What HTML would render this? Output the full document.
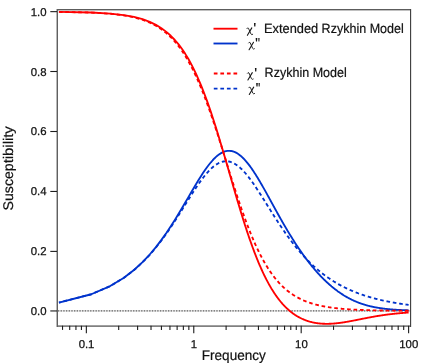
<!DOCTYPE html>
<html><head><meta charset="utf-8"><title>chart</title>
<style>
html,body{margin:0;padding:0;background:#fff;}
svg{display:block;font-family:"Liberation Sans",sans-serif;will-change:transform;text-rendering:geometricPrecision;}
</style></head><body>
<svg width="436" height="363" viewBox="0 0 436 363">
<rect width="436" height="363" fill="#fff"/>
<!-- zero line -->
<line x1="57" x2="410" y1="310.95" y2="310.95" stroke="#dcdcdc" stroke-width="1.3"/>
<line x1="57.9" x2="410" y1="310.95" y2="310.95" stroke="#606060" stroke-width="1.3" stroke-dasharray="1.34 1.345"/>
<!-- curves -->
<g fill="none" stroke-width="1.85" stroke-linejoin="round">
<path d="M58.93,302.55 L91.27,294.28 L110.18,286.09 L123.60,278.01 L134.01,270.08 L142.52,262.33 L149.71,254.79 L155.94,247.49 L161.43,240.45 L166.35,233.69 L170.80,227.23 L174.85,221.09 L178.59,215.27 L182.05,209.78 L185.26,204.63 L188.28,199.81 L191.10,195.32 L193.77,191.17 L196.29,187.34 L198.69,183.83 L200.96,180.63 L203.13,177.72 L205.21,175.10 L207.19,172.76 L209.10,170.67 L210.93,168.84 L212.69,167.23 L214.38,165.85 L216.02,164.68 L217.60,163.70 L219.13,162.91 L220.61,162.28 L222.05,161.81 L223.44,161.49 L224.79,161.31 L226.11,161.25 L227.38,161.31 L228.63,161.47 L229.84,161.73 L231.02,162.08 L232.17,162.51 L233.30,163.01 L234.40,163.58 L235.47,164.21 L236.52,164.90 L237.54,165.63 L238.55,166.41 L239.53,167.23 L240.49,168.09 L241.43,168.97 L242.36,169.89 L243.26,170.82 L244.15,171.78 L245.02,172.76 L245.88,173.75 L246.72,174.75 L247.54,175.77 L248.36,176.79 L249.15,177.82 L249.94,178.85 L250.71,179.89 L251.47,180.93 L252.21,181.96 L252.95,183.00 L253.67,184.04 L254.38,185.07 L255.09,186.10 L255.78,187.13 L256.46,188.15 L257.13,189.16 L257.79,190.17 L258.44,191.17 L259.09,192.16 L259.72,193.15 L260.35,194.13 L260.97,195.10 L261.58,196.06 L262.18,197.01 L262.77,197.95 L263.36,198.88 L263.94,199.81 L264.51,200.72 L265.08,201.62 L265.63,202.52 L266.19,203.40 L266.73,204.28 L267.27,205.14 L267.80,206.00 L268.33,206.84 L268.85,207.68 L269.37,208.50 L269.88,209.32 L270.38,210.12 L270.88,210.92 L271.38,211.71 L271.86,212.48 L272.35,213.25 L272.83,214.01 L273.30,214.76 L273.77,215.50 L274.23,216.23 L274.69,216.95 L275.15,217.66 L275.60,218.36 L276.04,219.06 L276.49,219.74 L276.93,220.42 L277.36,221.09 L277.79,221.75 L278.22,222.40 L278.64,223.05 L279.06,223.68 L279.47,224.31 L279.88,224.93 L280.29,225.55 L280.69,226.15 L281.09,226.75 L281.49,227.34 L281.88,227.92 L282.27,228.50 L282.66,229.07 L283.05,229.63 L283.43,230.19 L283.80,230.74 L284.18,231.28 L284.55,231.82 L284.92,232.35 L285.29,232.87 L285.65,233.39 L286.01,233.90 L286.37,234.40 L286.72,234.90 L287.07,235.39 L287.77,236.36 L288.46,237.31 L289.13,238.23 L289.80,239.13 L290.45,240.02 L291.10,240.88 L291.74,241.72 L292.37,242.55 L292.99,243.35 L293.61,244.14 L294.21,244.92 L294.81,245.67 L295.40,246.41 L295.99,247.13 L296.56,247.84 L297.13,248.54 L297.69,249.22 L298.25,249.88 L298.80,250.53 L299.34,251.17 L299.88,251.80 L300.41,252.41 L300.93,253.02 L301.45,253.61 L301.96,254.18 L302.47,254.75 L302.97,255.31 L303.47,255.85 L303.96,256.39 L304.44,256.92 L304.92,257.43 L305.40,257.94 L305.87,258.44 L306.34,258.93 L306.80,259.41 L307.26,259.88 L307.71,260.34 L308.16,260.80 L308.60,261.25 L309.04,261.69 L309.48,262.12 L309.91,262.54 L310.34,262.96 L310.76,263.37 L311.18,263.78 L311.60,264.17 L312.01,264.56 L312.42,264.95 L312.83,265.33 L313.23,265.70 L313.63,266.07 L314.02,266.43 L314.42,266.78 L314.80,267.13 L315.19,267.48 L315.57,267.82 L315.95,268.15 L316.33,268.48 L316.70,268.80 L317.07,269.12 L317.44,269.44 L317.80,269.75 L318.17,270.05 L318.52,270.35 L318.88,270.65 L319.23,270.94 L319.58,271.23 L320.11,271.65 L320.62,272.07 L321.13,272.48 L321.64,272.88 L322.13,273.27 L322.63,273.65 L323.12,274.03 L323.60,274.39 L324.08,274.75 L324.55,275.11 L325.02,275.46 L325.49,275.80 L325.94,276.13 L326.40,276.46 L326.85,276.78 L327.30,277.10 L327.74,277.41 L328.18,277.71 L328.61,278.01 L329.04,278.31 L329.47,278.59 L329.89,278.88 L330.31,279.16 L330.72,279.43 L331.13,279.70 L331.54,279.97 L331.95,280.23 L332.35,280.48 L332.74,280.73 L333.14,280.98 L333.53,281.23 L333.91,281.47 L334.30,281.70 L334.68,281.93 L335.06,282.16 L335.43,282.39 L335.80,282.61 L336.17,282.83 L336.54,283.04 L336.90,283.26 L337.26,283.46 L337.62,283.67 L337.97,283.87 L338.33,284.07 L338.79,284.33 L339.25,284.59 L339.71,284.84 L340.16,285.09 L340.61,285.33 L341.05,285.57 L341.49,285.80 L341.92,286.03 L342.36,286.26 L342.78,286.48 L343.21,286.70 L343.62,286.91 L344.04,287.12 L344.45,287.32 L344.86,287.53 L345.27,287.73 L345.67,287.92 L346.06,288.11 L346.46,288.30 L346.85,288.49 L347.24,288.67 L347.62,288.85 L348.00,289.03 L348.38,289.20 L348.76,289.38 L349.13,289.55 L349.50,289.71 L349.87,289.88 L350.23,290.04 L350.59,290.20 L350.95,290.35 L351.31,290.51 L351.66,290.66 L352.01,290.81 L352.44,290.99 L352.87,291.17 L353.30,291.35 L353.72,291.52 L354.14,291.69 L354.55,291.86 L354.96,292.03 L355.37,292.19 L355.78,292.35 L356.18,292.51 L356.57,292.66 L356.97,292.81 L357.36,292.96 L357.74,293.11 L358.13,293.25 L358.51,293.40 L358.89,293.54 L359.26,293.67 L359.63,293.81 L360.00,293.94 L360.37,294.07 L360.73,294.20 L361.09,294.33 L361.45,294.45 L361.80,294.58 L362.16,294.70 L362.58,294.84 L362.99,294.98 L363.40,295.12 L363.81,295.26 L364.21,295.39 L364.62,295.52 L365.01,295.65 L365.41,295.78 L365.80,295.91 L366.19,296.03 L366.57,296.15 L366.95,296.27 L367.33,296.39 L367.71,296.50 L368.08,296.62 L368.45,296.73 L368.81,296.84 L369.18,296.95 L369.54,297.05 L369.90,297.16 L370.25,297.26 L370.60,297.36 L371.01,297.48 L371.42,297.59 L371.82,297.71 L372.21,297.82 L372.61,297.93 L373.00,298.04 L373.39,298.14 L373.77,298.25 L374.15,298.35 L374.53,298.45 L374.91,298.55 L375.28,298.64 L375.65,298.74 L376.01,298.83 L376.38,298.93 L376.74,299.02 L377.10,299.11 L377.45,299.20 L377.80,299.29 L378.20,299.38 L378.60,299.48 L378.99,299.58 L379.38,299.67 L379.77,299.76 L380.15,299.85 L380.53,299.94 L380.91,300.03 L381.28,300.11 L381.65,300.20 L382.02,300.28 L382.39,300.36 L382.75,300.45 L383.11,300.53 L383.46,300.60 L383.82,300.68 L384.17,300.76 L384.56,300.84 L384.95,300.92 L385.34,301.01 L385.72,301.09 L386.10,301.17 L386.48,301.24 L386.85,301.32 L387.22,301.39 L387.59,301.47 L387.95,301.54 L388.31,301.61 L388.67,301.68 L389.03,301.75 L389.38,301.82 L389.73,301.89 L390.12,301.96 L390.50,302.04 L390.88,302.11 L391.26,302.18 L391.64,302.25 L392.01,302.32 L392.38,302.38 L392.74,302.45 L393.10,302.51 L393.46,302.58 L393.82,302.64 L394.18,302.70 L394.53,302.76 L394.91,302.83 L395.29,302.89 L395.67,302.96 L396.05,303.02 L396.42,303.08 L396.79,303.14 L397.15,303.20 L397.51,303.26 L397.87,303.32 L398.23,303.38 L398.59,303.44 L398.94,303.49 L399.32,303.55 L399.70,303.61 L400.07,303.67 L400.45,303.73 L400.81,303.78 L401.18,303.84 L401.54,303.89 L401.90,303.94 L402.26,304.00 L402.62,304.05 L402.97,304.10 L403.35,304.15 L403.72,304.21 L404.10,304.26 L404.47,304.31 L404.83,304.36 L405.20,304.41 L405.56,304.46 L405.92,304.51 L406.27,304.56 L406.62,304.61 L406.97,304.66 L407.35,304.70 L407.72,304.75 L408.09,304.80 L408.45,304.85 L408.61,304.87" stroke="#0033cc" stroke-dasharray="3.62 2.815" stroke-dashoffset="1.76"/>
<path d="M58.93,302.54 L91.27,294.27 L110.18,286.07 L123.60,277.96 L134.01,269.98 L142.52,262.16 L149.71,254.52 L155.94,247.10 L161.43,239.90 L166.35,232.96 L170.80,226.29 L174.85,219.90 L178.59,213.81 L182.05,208.02 L185.26,202.54 L188.28,197.37 L191.10,192.51 L193.77,187.97 L196.29,183.74 L198.69,179.82 L200.96,176.19 L203.13,172.86 L205.21,169.81 L207.19,167.04 L209.10,164.53 L210.93,162.27 L212.69,160.26 L214.38,158.47 L216.02,156.90 L217.60,155.55 L219.13,154.38 L220.61,153.40 L222.05,152.60 L223.44,151.96 L224.79,151.47 L226.11,151.12 L227.38,150.90 L228.63,150.81 L229.84,150.83 L231.02,150.96 L232.17,151.19 L233.30,151.50 L234.40,151.90 L235.47,152.37 L236.52,152.92 L237.54,153.52 L238.55,154.19 L239.53,154.91 L240.49,155.67 L241.43,156.48 L242.36,157.33 L243.26,158.22 L244.15,159.13 L245.02,160.08 L245.88,161.05 L246.72,162.04 L247.54,163.05 L248.36,164.07 L249.15,165.12 L249.94,166.17 L250.71,167.23 L251.47,168.30 L252.21,169.38 L252.95,170.47 L253.67,171.55 L254.38,172.64 L255.09,173.73 L255.78,174.82 L256.46,175.91 L257.13,177.00 L257.79,178.08 L258.44,179.17 L259.09,180.24 L259.72,181.32 L260.35,182.38 L260.97,183.44 L261.58,184.50 L262.18,185.55 L262.77,186.59 L263.36,187.62 L263.94,188.64 L264.51,189.66 L265.08,190.67 L265.63,191.67 L266.19,192.66 L266.73,193.65 L267.27,194.62 L267.80,195.59 L268.33,196.54 L268.85,197.49 L269.37,198.42 L269.88,199.35 L270.38,200.27 L270.88,201.18 L271.38,202.08 L271.86,202.97 L272.35,203.85 L272.83,204.72 L273.30,205.59 L273.77,206.44 L274.23,207.28 L274.69,208.12 L275.15,208.95 L275.60,209.76 L276.04,210.57 L276.49,211.37 L276.93,212.16 L277.36,212.94 L277.79,213.72 L278.22,214.48 L278.64,215.24 L279.06,215.99 L279.47,216.73 L279.88,217.46 L280.29,218.18 L280.69,218.90 L281.09,219.60 L281.49,220.30 L281.88,221.00 L282.27,221.68 L282.66,222.36 L283.05,223.03 L283.43,223.69 L283.80,224.34 L284.18,224.99 L284.55,225.63 L284.92,226.27 L285.29,226.89 L285.65,227.51 L286.01,228.13 L286.37,228.73 L286.72,229.33 L287.07,229.93 L287.77,231.10 L288.46,232.24 L289.13,233.36 L289.80,234.46 L290.45,235.53 L291.10,236.58 L291.74,237.61 L292.37,238.62 L292.99,239.61 L293.61,240.58 L294.21,241.53 L294.81,242.46 L295.40,243.38 L295.99,244.27 L296.56,245.15 L297.13,246.01 L297.69,246.85 L298.25,247.68 L298.80,248.50 L299.34,249.29 L299.88,250.08 L300.41,250.85 L300.93,251.60 L301.45,252.34 L301.96,253.07 L302.47,253.78 L302.97,254.49 L303.47,255.18 L303.96,255.85 L304.44,256.52 L304.92,257.17 L305.40,257.82 L305.87,258.45 L306.34,259.07 L306.80,259.68 L307.26,260.29 L307.71,260.88 L308.16,261.46 L308.60,262.03 L309.04,262.59 L309.48,263.15 L309.91,263.69 L310.34,264.23 L310.76,264.76 L311.18,265.28 L311.60,265.79 L312.01,266.29 L312.42,266.79 L312.83,267.28 L313.23,267.76 L313.63,268.23 L314.02,268.70 L314.42,269.16 L314.80,269.61 L315.19,270.06 L315.57,270.50 L315.95,270.93 L316.33,271.36 L316.70,271.78 L317.07,272.20 L317.44,272.61 L317.80,273.01 L318.17,273.41 L318.52,273.80 L318.88,274.19 L319.23,274.57 L319.58,274.94 L320.11,275.50 L320.62,276.04 L321.13,276.57 L321.64,277.10 L322.13,277.61 L322.63,278.11 L323.12,278.60 L323.60,279.08 L324.08,279.55 L324.55,280.02 L325.02,280.47 L325.49,280.92 L325.94,281.35 L326.40,281.78 L326.85,282.20 L327.30,282.62 L327.74,283.02 L328.18,283.42 L328.61,283.81 L329.04,284.19 L329.47,284.57 L329.89,284.94 L330.31,285.30 L330.72,285.66 L331.13,286.01 L331.54,286.36 L331.95,286.69 L332.35,287.03 L332.74,287.35 L333.14,287.67 L333.53,287.99 L333.91,288.30 L334.30,288.60 L334.68,288.90 L335.06,289.20 L335.43,289.49 L335.80,289.77 L336.17,290.05 L336.54,290.33 L336.90,290.60 L337.26,290.87 L337.62,291.13 L337.97,291.39 L338.33,291.64 L338.79,291.97 L339.25,292.29 L339.71,292.61 L340.16,292.92 L340.61,293.23 L341.05,293.52 L341.49,293.82 L341.92,294.10 L342.36,294.38 L342.78,294.65 L343.21,294.92 L343.62,295.19 L344.04,295.44 L344.45,295.69 L344.86,295.94 L345.27,296.18 L345.67,296.42 L346.06,296.65 L346.46,296.88 L346.85,297.10 L347.24,297.32 L347.62,297.54 L348.00,297.75 L348.38,297.95 L348.76,298.15 L349.13,298.35 L349.50,298.55 L349.87,298.74 L350.23,298.92 L350.59,299.11 L350.95,299.29 L351.31,299.46 L351.66,299.64 L352.01,299.81 L352.44,300.01 L352.87,300.22 L353.30,300.42 L353.72,300.61 L354.14,300.80 L354.55,300.98 L354.96,301.16 L355.37,301.34 L355.78,301.51 L356.18,301.68 L356.57,301.85 L356.97,302.01 L357.36,302.16 L357.74,302.32 L358.13,302.47 L358.51,302.62 L358.89,302.76 L359.26,302.90 L359.63,303.04 L360.00,303.17 L360.37,303.31 L360.73,303.44 L361.09,303.56 L361.45,303.69 L361.80,303.81 L362.16,303.93 L362.58,304.06 L362.99,304.20 L363.40,304.33 L363.81,304.46 L364.21,304.59 L364.62,304.71 L365.01,304.83 L365.41,304.94 L365.80,305.06 L366.19,305.17 L366.57,305.28 L366.95,305.38 L367.33,305.49 L367.71,305.59 L368.08,305.69 L368.45,305.78 L368.81,305.88 L369.18,305.97 L369.54,306.06 L369.90,306.14 L370.25,306.23 L370.60,306.31 L371.01,306.41 L371.42,306.50 L371.82,306.59 L372.21,306.68 L372.61,306.76 L373.00,306.85 L373.39,306.93 L373.77,307.01 L374.15,307.08 L374.53,307.16 L374.91,307.23 L375.28,307.30 L375.65,307.37 L376.01,307.44 L376.38,307.50 L376.74,307.57 L377.10,307.63 L377.45,307.69 L377.80,307.75 L378.20,307.82 L378.60,307.88 L378.99,307.95 L379.38,308.01 L379.77,308.07 L380.15,308.13 L380.53,308.18 L380.91,308.24 L381.28,308.29 L381.65,308.34 L382.02,308.39 L382.39,308.44 L382.75,308.49 L383.11,308.54 L383.46,308.58 L383.82,308.63 L384.17,308.67 L384.56,308.72 L384.95,308.77 L385.34,308.81 L385.72,308.85 L386.10,308.90 L386.48,308.94 L386.85,308.98 L387.22,309.02 L387.59,309.06 L387.95,309.09 L388.31,309.13 L388.67,309.16 L389.03,309.20 L389.38,309.23 L389.73,309.26 L390.12,309.30 L390.50,309.33 L390.88,309.37 L391.26,309.40 L391.64,309.43 L392.01,309.46 L392.38,309.49 L392.74,309.52 L393.10,309.55 L393.46,309.57 L393.82,309.60 L394.18,309.63 L394.53,309.65 L394.91,309.68 L395.29,309.70 L395.67,309.73 L396.05,309.75 L396.42,309.78 L396.79,309.80 L397.15,309.82 L397.51,309.84 L397.87,309.87 L398.23,309.89 L398.59,309.91 L398.94,309.93 L399.32,309.95 L399.70,309.97 L400.07,309.99 L400.45,310.01 L400.81,310.02 L401.18,310.04 L401.54,310.06 L401.90,310.08 L402.26,310.09 L402.62,310.11 L402.97,310.12 L403.35,310.14 L403.72,310.16 L404.10,310.17 L404.47,310.19 L404.83,310.20 L405.20,310.22 L405.56,310.23 L405.92,310.24 L406.27,310.26 L406.62,310.27 L406.97,310.28 L407.35,310.29 L407.72,310.31 L408.09,310.32 L408.45,310.33 L408.61,310.33" stroke="#0033cc"/>
<path d="M58.93,11.88 L91.27,12.57 L110.18,13.71 L123.60,15.30 L134.01,17.31 L142.52,19.74 L149.71,22.55 L155.94,25.73 L161.43,29.25 L166.35,33.08 L170.80,37.20 L174.85,41.57 L178.59,46.17 L182.05,50.96 L185.26,55.91 L188.28,61.00 L191.10,66.20 L193.77,71.49 L196.29,76.83 L198.69,82.22 L200.96,87.61 L203.13,93.01 L205.21,98.38 L207.19,103.71 L209.10,109.00 L210.93,114.22 L212.69,119.36 L214.38,124.43 L216.02,129.40 L217.60,134.27 L219.13,139.05 L220.61,143.71 L222.05,148.27 L223.44,152.71 L224.79,157.04 L226.11,161.25 L227.38,165.35 L228.63,169.33 L229.84,173.20 L231.02,176.95 L232.17,180.60 L233.30,184.13 L234.40,187.55 L235.47,190.87 L236.52,194.09 L237.54,197.20 L238.55,200.22 L239.53,203.14 L240.49,205.96 L241.43,208.70 L242.36,211.35 L243.26,213.91 L244.15,216.39 L245.02,218.79 L245.88,221.11 L246.72,223.36 L247.54,225.53 L248.36,227.64 L249.15,229.68 L249.94,231.65 L250.71,233.56 L251.47,235.41 L252.21,237.20 L252.95,238.94 L253.67,240.62 L254.38,242.24 L255.09,243.82 L255.78,245.35 L256.46,246.83 L257.13,248.27 L257.79,249.66 L258.44,251.01 L259.09,252.32 L259.72,253.59 L260.35,254.82 L260.97,256.02 L261.58,257.18 L262.18,258.31 L262.77,259.40 L263.36,260.46 L263.94,261.50 L264.51,262.50 L265.08,263.48 L265.63,264.42 L266.19,265.34 L266.73,266.24 L267.27,267.11 L267.80,267.96 L268.33,268.78 L268.85,269.58 L269.37,270.36 L269.88,271.12 L270.38,271.86 L270.88,272.58 L271.38,273.28 L271.86,273.96 L272.35,274.63 L272.83,275.28 L273.30,275.91 L273.77,276.52 L274.23,277.12 L274.69,277.71 L275.15,278.28 L275.60,278.84 L276.04,279.38 L276.49,279.91 L276.93,280.43 L277.36,280.93 L277.79,281.42 L278.22,281.90 L278.64,282.37 L279.06,282.83 L279.47,283.28 L279.88,283.72 L280.29,284.15 L280.69,284.56 L281.09,284.97 L281.49,285.37 L281.88,285.76 L282.27,286.15 L282.66,286.52 L283.05,286.88 L283.43,287.24 L283.80,287.59 L284.18,287.93 L284.55,288.27 L284.92,288.60 L285.29,288.92 L285.65,289.23 L286.01,289.54 L286.37,289.84 L286.72,290.14 L287.07,290.43 L287.77,290.99 L288.46,291.52 L289.13,292.04 L289.80,292.54 L290.45,293.02 L291.10,293.48 L291.74,293.92 L292.37,294.35 L292.99,294.76 L293.61,295.15 L294.21,295.54 L294.81,295.90 L295.40,296.26 L295.99,296.60 L296.56,296.93 L297.13,297.25 L297.69,297.56 L298.25,297.86 L298.80,298.15 L299.34,298.43 L299.88,298.70 L300.41,298.96 L300.93,299.22 L301.45,299.46 L301.96,299.70 L302.47,299.93 L302.97,300.16 L303.47,300.37 L303.96,300.59 L304.44,300.79 L304.92,300.99 L305.40,301.18 L305.87,301.37 L306.34,301.55 L306.80,301.73 L307.26,301.90 L307.71,302.07 L308.16,302.23 L308.60,302.39 L309.04,302.54 L309.48,302.69 L309.91,302.84 L310.34,302.98 L310.76,303.12 L311.18,303.25 L311.60,303.38 L312.01,303.51 L312.42,303.63 L312.83,303.76 L313.23,303.87 L313.63,303.99 L314.02,304.10 L314.42,304.21 L314.80,304.32 L315.19,304.42 L315.57,304.53 L315.95,304.63 L316.33,304.72 L316.70,304.82 L317.07,304.91 L317.44,305.00 L317.80,305.09 L318.17,305.18 L318.52,305.26 L318.88,305.35 L319.23,305.43 L319.58,305.51 L320.11,305.62 L320.62,305.74 L321.13,305.84 L321.64,305.95 L322.13,306.05 L322.63,306.15 L323.12,306.25 L323.60,306.34 L324.08,306.43 L324.55,306.52 L325.02,306.60 L325.49,306.69 L325.94,306.77 L326.40,306.84 L326.85,306.92 L327.30,306.99 L327.74,307.06 L328.18,307.13 L328.61,307.20 L329.04,307.27 L329.47,307.33 L329.89,307.39 L330.31,307.45 L330.72,307.51 L331.13,307.57 L331.54,307.63 L331.95,307.68 L332.35,307.74 L332.74,307.79 L333.14,307.84 L333.53,307.89 L333.91,307.94 L334.30,307.98 L334.68,308.03 L335.06,308.07 L335.43,308.12 L335.80,308.16 L336.17,308.20 L336.54,308.24 L336.90,308.28 L337.26,308.32 L337.62,308.36 L337.97,308.40 L338.33,308.43 L338.79,308.48 L339.25,308.53 L339.71,308.57 L340.16,308.62 L340.61,308.66 L341.05,308.70 L341.49,308.74 L341.92,308.78 L342.36,308.81 L342.78,308.85 L343.21,308.89 L343.62,308.92 L344.04,308.96 L344.45,308.99 L344.86,309.02 L345.27,309.05 L345.67,309.08 L346.06,309.11 L346.46,309.14 L346.85,309.17 L347.24,309.20 L347.62,309.22 L348.00,309.25 L348.38,309.28 L348.76,309.30 L349.13,309.33 L349.50,309.35 L349.87,309.37 L350.23,309.40 L350.59,309.42 L350.95,309.44 L351.31,309.46 L351.66,309.48 L352.01,309.50 L352.44,309.53 L352.87,309.55 L353.30,309.57 L353.72,309.60 L354.14,309.62 L354.55,309.64 L354.96,309.66 L355.37,309.68 L355.78,309.70 L356.18,309.72 L356.57,309.74 L356.97,309.76 L357.36,309.78 L357.74,309.79 L358.13,309.81 L358.51,309.83 L358.89,309.84 L359.26,309.86 L359.63,309.88 L360.00,309.89 L360.37,309.91 L360.73,309.92 L361.09,309.94 L361.45,309.95 L361.80,309.96 L362.16,309.98 L362.58,309.99 L362.99,310.01 L363.40,310.02 L363.81,310.04 L364.21,310.05 L364.62,310.06 L365.01,310.08 L365.41,310.09 L365.80,310.10 L366.19,310.11 L366.57,310.13 L366.95,310.14 L367.33,310.15 L367.71,310.16 L368.08,310.17 L368.45,310.18 L368.81,310.19 L369.18,310.20 L369.54,310.21 L369.90,310.22 L370.25,310.23 L370.60,310.24 L371.01,310.25 L371.42,310.26 L371.82,310.27 L372.21,310.28 L372.61,310.29 L373.00,310.30 L373.39,310.31 L373.77,310.32 L374.15,310.33 L374.53,310.34 L374.91,310.34 L375.28,310.35 L375.65,310.36 L376.01,310.37 L376.38,310.37 L376.74,310.38 L377.10,310.39 L377.45,310.40 L377.80,310.40 L378.20,310.41 L378.60,310.42 L378.99,310.42 L379.38,310.43 L379.77,310.44 L380.15,310.45 L380.53,310.45 L380.91,310.46 L381.28,310.46 L381.65,310.47 L382.02,310.48 L382.39,310.48 L382.75,310.49 L383.11,310.49 L383.46,310.50 L383.82,310.50 L384.17,310.51 L384.56,310.51 L384.95,310.52 L385.34,310.53 L385.72,310.53 L386.10,310.54 L386.48,310.54 L386.85,310.55 L387.22,310.55 L387.59,310.56 L387.95,310.56 L388.31,310.56 L388.67,310.57 L389.03,310.57 L389.38,310.58 L389.73,310.58 L390.12,310.59 L390.50,310.59 L390.88,310.59 L391.26,310.60 L391.64,310.60 L392.01,310.61 L392.38,310.61 L392.74,310.61 L393.10,310.62 L393.46,310.62 L393.82,310.62 L394.18,310.63 L394.53,310.63 L394.91,310.63 L395.29,310.64 L395.67,310.64 L396.05,310.65 L396.42,310.65 L396.79,310.65 L397.15,310.65 L397.51,310.66 L397.87,310.66 L398.23,310.66 L398.59,310.67 L398.94,310.67 L399.32,310.67 L399.70,310.67 L400.07,310.68 L400.45,310.68 L400.81,310.68 L401.18,310.69 L401.54,310.69 L401.90,310.69 L402.26,310.69 L402.62,310.70 L402.97,310.70 L403.35,310.70 L403.72,310.70 L404.10,310.70 L404.47,310.71 L404.83,310.71 L405.20,310.71 L405.56,310.71 L405.92,310.72 L406.27,310.72 L406.62,310.72 L406.97,310.72 L407.35,310.72 L407.72,310.73 L408.09,310.73 L408.45,310.73 L408.61,310.73" stroke="#ff0000" stroke-dasharray="3.62 2.815" stroke-dashoffset="0"/>
<path d="M58.93,11.87 L91.27,12.51 L110.18,13.58 L123.60,15.07 L134.01,16.95 L142.52,19.23 L149.71,21.89 L155.94,24.89 L161.43,28.23 L166.35,31.87 L170.80,35.80 L174.85,39.99 L178.59,44.41 L182.05,49.04 L185.26,53.86 L188.28,58.82 L191.10,63.92 L193.77,69.13 L196.29,74.42 L198.69,79.77 L200.96,85.16 L203.13,90.58 L205.21,96.01 L207.19,101.42 L209.10,106.81 L210.93,112.16 L212.69,117.46 L214.38,122.70 L216.02,127.88 L217.60,132.97 L219.13,137.98 L220.61,142.90 L222.05,147.73 L223.44,152.45 L224.79,157.07 L226.11,161.59 L227.38,166.01 L228.63,170.31 L229.84,174.51 L231.02,178.60 L232.17,182.58 L233.30,186.46 L234.40,190.22 L235.47,193.89 L236.52,197.45 L237.54,200.91 L238.55,204.27 L239.53,207.53 L240.49,210.69 L241.43,213.77 L242.36,216.75 L243.26,219.64 L244.15,222.44 L245.02,225.17 L245.88,227.80 L246.72,230.36 L247.54,232.85 L248.36,235.25 L249.15,237.59 L249.94,239.85 L250.71,242.05 L251.47,244.18 L252.21,246.25 L252.95,248.25 L253.67,250.19 L254.38,252.08 L255.09,253.91 L255.78,255.68 L256.46,257.41 L257.13,259.08 L257.79,260.70 L258.44,262.28 L259.09,263.81 L259.72,265.29 L260.35,266.74 L260.97,268.14 L261.58,269.50 L262.18,270.82 L262.77,272.10 L263.36,273.35 L263.94,274.57 L264.51,275.75 L265.08,276.89 L265.63,278.01 L266.19,279.09 L266.73,280.15 L267.27,281.17 L267.80,282.17 L268.33,283.14 L268.85,284.09 L269.37,285.01 L269.88,285.91 L270.38,286.78 L270.88,287.63 L271.38,288.45 L271.86,289.26 L272.35,290.04 L272.83,290.81 L273.30,291.55 L273.77,292.28 L274.23,292.99 L274.69,293.68 L275.15,294.35 L275.60,295.01 L276.04,295.65 L276.49,296.27 L276.93,296.88 L277.36,297.47 L277.79,298.05 L278.22,298.62 L278.64,299.17 L279.06,299.71 L279.47,300.24 L279.88,300.75 L280.29,301.25 L280.69,301.74 L281.09,302.22 L281.49,302.69 L281.88,303.14 L282.27,303.59 L282.66,304.03 L283.05,304.45 L283.43,304.87 L283.80,305.27 L284.18,305.67 L284.55,306.06 L284.92,306.44 L285.29,306.81 L285.65,307.18 L286.01,307.53 L286.37,307.88 L286.72,308.22 L287.07,308.55 L287.77,309.19 L288.46,309.81 L289.13,310.40 L289.80,310.97 L290.45,311.51 L291.10,312.03 L291.74,312.52 L292.37,313.00 L292.99,313.46 L293.61,313.90 L294.21,314.32 L294.81,314.73 L295.40,315.11 L295.99,315.49 L296.56,315.85 L297.13,316.19 L297.69,316.52 L298.25,316.84 L298.80,317.14 L299.34,317.44 L299.88,317.72 L300.41,317.99 L300.93,318.25 L301.45,318.50 L301.96,318.74 L302.47,318.98 L302.97,319.20 L303.47,319.41 L303.96,319.62 L304.44,319.82 L304.92,320.01 L305.40,320.19 L305.87,320.36 L306.34,320.53 L306.80,320.70 L307.26,320.85 L307.71,321.00 L308.16,321.15 L308.60,321.28 L309.04,321.42 L309.48,321.54 L309.91,321.67 L310.34,321.78 L310.76,321.90 L311.18,322.00 L311.60,322.11 L312.01,322.21 L312.42,322.30 L312.83,322.39 L313.23,322.48 L313.63,322.56 L314.02,322.64 L314.42,322.72 L314.80,322.79 L315.19,322.86 L315.57,322.93 L315.95,322.99 L316.33,323.05 L316.70,323.11 L317.07,323.16 L317.44,323.21 L317.80,323.26 L318.17,323.31 L318.52,323.35 L318.88,323.39 L319.23,323.43 L319.58,323.47 L320.11,323.52 L320.62,323.57 L321.13,323.61 L321.64,323.65 L322.13,323.68 L322.63,323.71 L323.12,323.74 L323.60,323.76 L324.08,323.78 L324.55,323.79 L325.02,323.81 L325.49,323.81 L325.94,323.82 L326.40,323.82 L326.85,323.82 L327.30,323.82 L327.74,323.82 L328.18,323.81 L328.61,323.80 L329.04,323.79 L329.47,323.78 L329.89,323.76 L330.31,323.75 L330.72,323.73 L331.13,323.71 L331.54,323.69 L331.95,323.66 L332.35,323.64 L332.74,323.61 L333.14,323.58 L333.53,323.55 L333.91,323.52 L334.30,323.49 L334.68,323.46 L335.06,323.43 L335.43,323.39 L335.80,323.35 L336.17,323.32 L336.54,323.28 L336.90,323.24 L337.26,323.20 L337.62,323.16 L337.97,323.12 L338.33,323.08 L338.79,323.02 L339.25,322.96 L339.71,322.91 L340.16,322.85 L340.61,322.79 L341.05,322.72 L341.49,322.66 L341.92,322.60 L342.36,322.54 L342.78,322.47 L343.21,322.41 L343.62,322.34 L344.04,322.28 L344.45,322.21 L344.86,322.15 L345.27,322.08 L345.67,322.01 L346.06,321.95 L346.46,321.88 L346.85,321.81 L347.24,321.74 L347.62,321.68 L348.00,321.61 L348.38,321.54 L348.76,321.47 L349.13,321.41 L349.50,321.34 L349.87,321.27 L350.23,321.20 L350.59,321.14 L350.95,321.07 L351.31,321.00 L351.66,320.94 L352.01,320.87 L352.44,320.79 L352.87,320.70 L353.30,320.62 L353.72,320.54 L354.14,320.46 L354.55,320.38 L354.96,320.30 L355.37,320.22 L355.78,320.14 L356.18,320.06 L356.57,319.98 L356.97,319.90 L357.36,319.82 L357.74,319.74 L358.13,319.67 L358.51,319.59 L358.89,319.52 L359.26,319.44 L359.63,319.37 L360.00,319.29 L360.37,319.22 L360.73,319.15 L361.09,319.08 L361.45,319.00 L361.80,318.93 L362.16,318.86 L362.58,318.78 L362.99,318.70 L363.40,318.62 L363.81,318.54 L364.21,318.46 L364.62,318.38 L365.01,318.30 L365.41,318.22 L365.80,318.15 L366.19,318.07 L366.57,318.00 L366.95,317.92 L367.33,317.85 L367.71,317.78 L368.08,317.71 L368.45,317.64 L368.81,317.57 L369.18,317.50 L369.54,317.43 L369.90,317.36 L370.25,317.30 L370.60,317.23 L371.01,317.16 L371.42,317.08 L371.82,317.01 L372.21,316.94 L372.61,316.87 L373.00,316.80 L373.39,316.73 L373.77,316.66 L374.15,316.59 L374.53,316.53 L374.91,316.46 L375.28,316.40 L375.65,316.34 L376.01,316.27 L376.38,316.21 L376.74,316.15 L377.10,316.09 L377.45,316.03 L377.80,315.98 L378.20,315.91 L378.60,315.85 L378.99,315.78 L379.38,315.72 L379.77,315.66 L380.15,315.60 L380.53,315.54 L380.91,315.48 L381.28,315.43 L381.65,315.37 L382.02,315.32 L382.39,315.26 L382.75,315.21 L383.11,315.16 L383.46,315.11 L383.82,315.05 L384.17,315.00 L384.56,314.95 L384.95,314.90 L385.34,314.84 L385.72,314.79 L386.10,314.74 L386.48,314.69 L386.85,314.64 L387.22,314.59 L387.59,314.54 L387.95,314.49 L388.31,314.45 L388.67,314.40 L389.03,314.36 L389.38,314.31 L389.73,314.27 L390.12,314.22 L390.50,314.18 L390.88,314.13 L391.26,314.09 L391.64,314.05 L392.01,314.00 L392.38,313.96 L392.74,313.92 L393.10,313.88 L393.46,313.84 L393.82,313.80 L394.18,313.76 L394.53,313.73 L394.91,313.68 L395.29,313.65 L395.67,313.61 L396.05,313.57 L396.42,313.53 L396.79,313.49 L397.15,313.46 L397.51,313.42 L397.87,313.39 L398.23,313.35 L398.59,313.32 L398.94,313.29 L399.32,313.25 L399.70,313.22 L400.07,313.19 L400.45,313.15 L400.81,313.12 L401.18,313.09 L401.54,313.06 L401.90,313.03 L402.26,313.00 L402.62,312.97 L402.97,312.94 L403.35,312.91 L403.72,312.88 L404.10,312.85 L404.47,312.82 L404.83,312.80 L405.20,312.77 L405.56,312.74 L405.92,312.72 L406.27,312.69 L406.62,312.66 L406.97,312.64 L407.35,312.61 L407.72,312.59 L408.09,312.56 L408.45,312.54 L408.61,312.53" stroke="#ff0000"/>
</g>
<!-- frame -->
<g shape-rendering="crispEdges" stroke="none">
<rect x="57" y="10" width="354" height="1" fill="#c0c0c0"/>
<rect x="411" y="9" width="1" height="318" fill="#e2e2e2"/>
<rect x="56" y="325" width="355" height="1" fill="#a0a0a0"/>
<rect x="56" y="326" width="355" height="1" fill="#808080"/>
<rect x="56" y="9" width="1" height="318" fill="#b8b8b8"/>
<rect x="57" y="9" width="354" height="1" fill="#5c5c5c"/>
<rect x="57" y="9" width="1" height="318" fill="#606060"/>
<rect x="410" y="9" width="1" height="318" fill="#424242"/>
</g>
<g stroke="#1c1c1c" stroke-width="1.1"><line x1="62.52" x2="62.52" y1="325.7" y2="329.9"/><line x1="69.71" x2="69.71" y1="325.7" y2="329.9"/><line x1="75.94" x2="75.94" y1="325.7" y2="329.9"/><line x1="81.43" x2="81.43" y1="325.7" y2="329.9"/><line x1="86.35" x2="86.35" y1="325.7" y2="333.2"/><line x1="118.69" x2="118.69" y1="325.7" y2="329.9"/><line x1="137.60" x2="137.60" y1="325.7" y2="329.9"/><line x1="151.02" x2="151.02" y1="325.7" y2="329.9"/><line x1="161.43" x2="161.43" y1="325.7" y2="329.9"/><line x1="169.94" x2="169.94" y1="325.7" y2="329.9"/><line x1="177.13" x2="177.13" y1="325.7" y2="329.9"/><line x1="183.36" x2="183.36" y1="325.7" y2="329.9"/><line x1="188.85" x2="188.85" y1="325.7" y2="329.9"/><line x1="193.77" x2="193.77" y1="325.7" y2="333.2"/><line x1="226.11" x2="226.11" y1="325.7" y2="329.9"/><line x1="245.02" x2="245.02" y1="325.7" y2="329.9"/><line x1="258.44" x2="258.44" y1="325.7" y2="329.9"/><line x1="268.85" x2="268.85" y1="325.7" y2="329.9"/><line x1="277.36" x2="277.36" y1="325.7" y2="329.9"/><line x1="284.55" x2="284.55" y1="325.7" y2="329.9"/><line x1="290.78" x2="290.78" y1="325.7" y2="329.9"/><line x1="296.27" x2="296.27" y1="325.7" y2="329.9"/><line x1="301.19" x2="301.19" y1="325.7" y2="333.2"/><line x1="333.53" x2="333.53" y1="325.7" y2="329.9"/><line x1="352.44" x2="352.44" y1="325.7" y2="329.9"/><line x1="365.86" x2="365.86" y1="325.7" y2="329.9"/><line x1="376.27" x2="376.27" y1="325.7" y2="329.9"/><line x1="384.78" x2="384.78" y1="325.7" y2="329.9"/><line x1="391.97" x2="391.97" y1="325.7" y2="329.9"/><line x1="398.20" x2="398.20" y1="325.7" y2="329.9"/><line x1="403.69" x2="403.69" y1="325.7" y2="329.9"/><line x1="408.61" x2="408.61" y1="325.7" y2="333.2"/><line x1="50.3" x2="57" y1="310.95" y2="310.95"/><line x1="50.3" x2="57" y1="251.40" y2="251.40"/><line x1="50.3" x2="57" y1="191.45" y2="191.45"/><line x1="50.3" x2="57" y1="131.50" y2="131.50"/><line x1="50.3" x2="57" y1="71.50" y2="71.50"/><line x1="50.3" x2="57" y1="11.65" y2="11.65"/></g>
<g font-size="11.4px" fill="#111" stroke="#111" stroke-width="0.25"><text x="30.77" y="315.00" textLength="15.83" lengthAdjust="spacingAndGlyphs">0.0</text><text x="30.77" y="255.16" textLength="15.83" lengthAdjust="spacingAndGlyphs">0.2</text><text x="30.77" y="195.32" textLength="15.83" lengthAdjust="spacingAndGlyphs">0.4</text><text x="30.77" y="135.48" textLength="15.83" lengthAdjust="spacingAndGlyphs">0.6</text><text x="30.77" y="75.64" textLength="15.83" lengthAdjust="spacingAndGlyphs">0.8</text><text x="30.77" y="15.80" textLength="15.83" lengthAdjust="spacingAndGlyphs">1.0</text><text x="78.64" y="348.1" textLength="15.83" lengthAdjust="spacingAndGlyphs">0.1</text><text x="190.80" y="348.1" textLength="6.33" lengthAdjust="spacingAndGlyphs">1</text><text x="295.06" y="348.1" textLength="12.66" lengthAdjust="spacingAndGlyphs">10</text><text x="399.31" y="348.1" textLength="18.99" lengthAdjust="spacingAndGlyphs">100</text></g>
<text x="201.8" y="359.5" font-size="14px" textLength="64" lengthAdjust="spacingAndGlyphs" fill="#111" stroke="#111" stroke-width="0.2">Frequency</text>
<g transform="translate(12.6,210.4) rotate(-90)" font-size="14px" fill="#111" stroke="#111" stroke-width="0.2">
<text x="0" y="0" textLength="47.1" lengthAdjust="spacingAndGlyphs">Suscep</text>
<text x="47.1" y="0" textLength="37.1" lengthAdjust="spacingAndGlyphs">tibility</text>
</g>
<!-- legend -->
<g stroke-width="1.85" fill="none">
<line x1="213.5" x2="237.5" y1="28.7" y2="28.7" stroke="#ff0000"/>
<line x1="213.5" x2="237.5" y1="43.5" y2="43.5" stroke="#0033cc"/>
<line x1="213.8" x2="237.5" y1="73.5" y2="73.5" stroke="#ff0000" stroke-dasharray="3.7 2.86"/>
<line x1="213.8" x2="237.5" y1="88.65" y2="88.65" stroke="#0033cc" stroke-dasharray="3.7 2.86"/>
</g>
<defs>
<g id="chi" fill="none" stroke="#1a1a1a" stroke-linecap="round">
<path d="M5.8,0.9 L1.4,8.3" stroke-width="1.1"/>
<path d="M0.9,1.5 Q1.5,0.3 2.5,1.3 L4.9,6.9 Q5.6,8.2 6.7,7.4" stroke-width="0.95"/>
</g>
<path id="pr" d="M-0.8,0 L0.8,0 L0.55,3.5 L-0.55,3.5 Z" fill="#111"/>
</defs>
<use href="#chi" x="246" y="27"/>
<use href="#chi" x="247.7" y="41.4"/>
<use href="#chi" x="246.5" y="71.7"/>
<use href="#chi" x="247.9" y="86.2"/>
<use href="#pr" x="254.8" y="23.1"/>
<use href="#pr" x="256.5" y="38.1"/><use href="#pr" x="258.9" y="38.1" opacity="0.8"/>
<use href="#pr" x="255.7" y="68"/>
<use href="#pr" x="257" y="83"/><use href="#pr" x="259.2" y="83" opacity="0.8"/>
<g font-size="13.4px" fill="#111" stroke="#111" stroke-width="0.2">
<text x="264" y="32.7" textLength="54.2" lengthAdjust="spacingAndGlyphs">Extended</text>
<text x="321.6" y="32.7" textLength="82.2" lengthAdjust="spacingAndGlyphs">Rzykhin Model</text>
<text x="264.6" y="77.35" textLength="82.2" lengthAdjust="spacingAndGlyphs">Rzykhin Model</text>
</g>
</svg>
</body></html>
